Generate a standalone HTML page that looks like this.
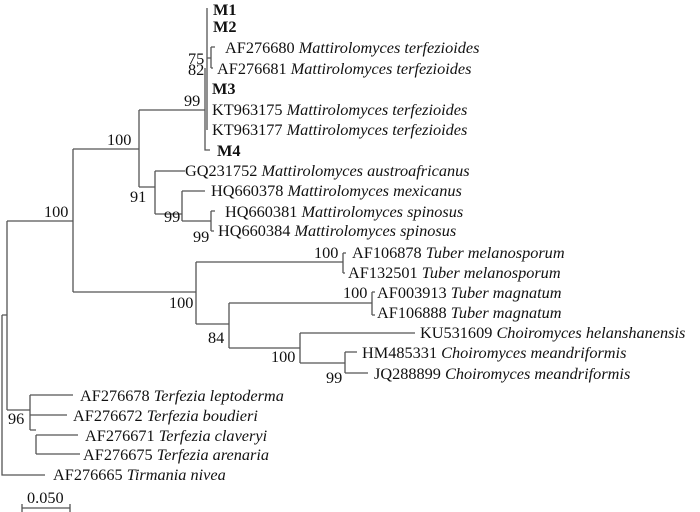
<!DOCTYPE html>
<html><head><meta charset="utf-8"><style>
html,body{margin:0;padding:0;background:#fff;}
svg{display:block;}
text{font-family:"Liberation Serif","Times New Roman",Times,serif;font-size:16.3px;fill:#111;}
.i{font-style:italic;}
.b{font-weight:bold;}
</style></head><body>
<svg width="700" height="512" viewBox="0 0 700 512" xmlns="http://www.w3.org/2000/svg">
<g stroke="#555" stroke-width="1.3" fill="none">
<path d="M2 315 H7 M2 315 V475 H45"/>
<path d="M7 221 V410"/>
<path d="M7 221 H73 M73 149 V292"/>
<path d="M73 149 H139 M139 110 V187"/>
<path d="M139 110 H205"/>
<path d="M207 8 V130 M205 68 V150 H210"/>
<path d="M207 58 H211 M211 47 V68 M211 47 H215 M211 68 H213"/>
<path d="M139 187 H155 M155 171 V214 M155 171 H185 M155 214 H182 M182 191 V221 M182 191 H205 M182 221 H211 M211 211 V231 M211 211 H215 M211 231 H214"/>
<path d="M73 292 H196 M196 262 V324 M196 262 H343 M343 253 V273 M343 253 H346 M343 273 H345"/>
<path d="M196 324 H229 M229 303 V348 M229 303 H372 M372 292 V315 M372 292 H375 M372 315 H375"/>
<path d="M229 348 H300 M300 333 V363 M300 333 H415 M300 363 H345 M345 352 V373 M345 352 H357 M345 373 H368"/>
<path d="M7 410 H30 M30 395 V430 M30 395 H73 M30 415 H67 M30 430 H36 M36 435 V454 M36 435 H78 M36 454 H80"/>
<path d="M22 508 H70 M22 504 V512 M70 504 V512"/>
</g>
<g>
<text x="213" y="15" class="b">M1</text>
<text x="213" y="32" class="b">M2</text>
<text x="225" y="53">AF276680 <tspan class="i">Mattirolomyces terfezioides</tspan></text>
<text x="217" y="74">AF276681 <tspan class="i">Mattirolomyces terfezioides</tspan></text>
<text x="212" y="94" class="b">M3</text>
<text x="212" y="115">KT963175 <tspan class="i">Mattirolomyces terfezioides</tspan></text>
<text x="212" y="135">KT963177 <tspan class="i">Mattirolomyces terfezioides</tspan></text>
<text x="217" y="156" class="b">M4</text>
<text x="185" y="176">GQ231752 <tspan class="i">Mattirolomyces austroafricanus</tspan></text>
<text x="211" y="196">HQ660378 <tspan class="i">Mattirolomyces mexicanus</tspan></text>
<text x="225" y="217">HQ660381 <tspan class="i">Mattirolomyces spinosus</tspan></text>
<text x="218" y="236">HQ660384 <tspan class="i">Mattirolomyces spinosus</tspan></text>
<text x="352" y="258">AF106878 <tspan class="i">Tuber melanosporum</tspan></text>
<text x="348" y="278">AF132501 <tspan class="i">Tuber melanosporum</tspan></text>
<text x="377" y="298">AF003913 <tspan class="i">Tuber magnatum</tspan></text>
<text x="377" y="318">AF106888 <tspan class="i">Tuber magnatum</tspan></text>
<text x="420" y="338">KU531609 <tspan class="i">Choiromyces helanshanensis</tspan></text>
<text x="362" y="358">HM485331 <tspan class="i">Choiromyces meandriformis</tspan></text>
<text x="374" y="379">JQ288899 <tspan class="i">Choiromyces meandriformis</tspan></text>
<text x="80" y="401">AF276678 <tspan class="i">Terfezia leptoderma</tspan></text>
<text x="73" y="421">AF276672 <tspan class="i">Terfezia boudieri</tspan></text>
<text x="85" y="441">AF276671 <tspan class="i">Terfezia claveryi</tspan></text>
<text x="83" y="460">AF276675 <tspan class="i">Terfezia arenaria</tspan></text>
<text x="53" y="480">AF276665 <tspan class="i">Tirmania nivea</tspan></text>
<text x="27" y="503">0.050</text>
<text x="188" y="64">75</text>
<text x="188" y="75">82</text>
<text x="184" y="106">99</text>
<text x="107" y="145">100</text>
<text x="44" y="217">100</text>
<text x="130" y="202">91</text>
<text x="164" y="222">99</text>
<text x="193" y="242">99</text>
<text x="314" y="258">100</text>
<text x="169" y="308">100</text>
<text x="208" y="343">84</text>
<text x="271" y="362">100</text>
<text x="326" y="383">99</text>
<text x="343" y="298">100</text>
<text x="8" y="424">96</text>
</g>
</svg>
</body></html>
